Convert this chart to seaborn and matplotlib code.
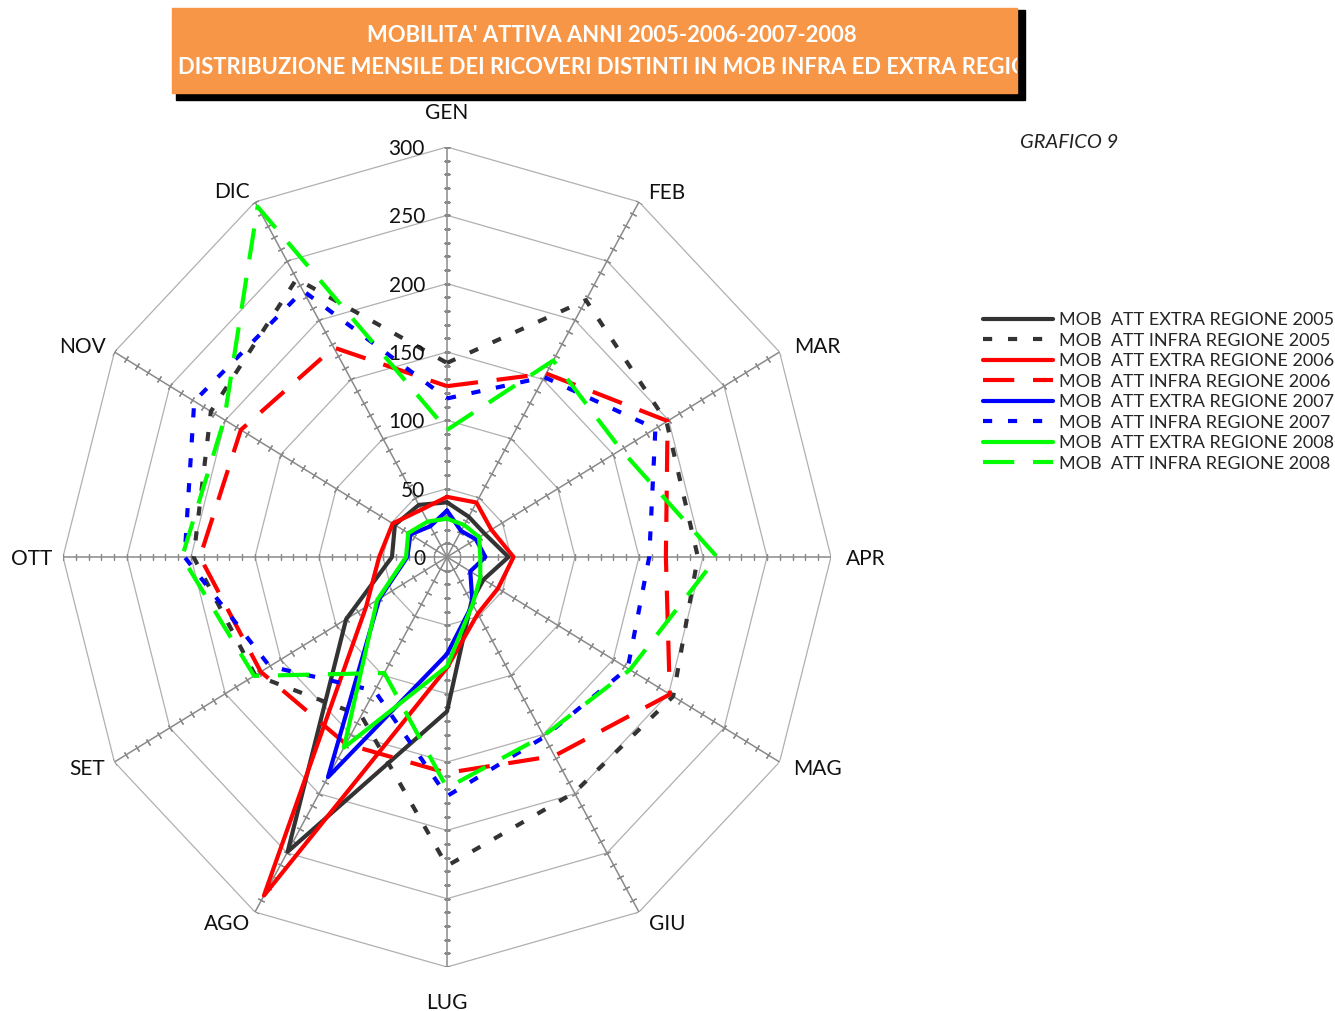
import numpy as np
import matplotlib
matplotlib.use("Agg")
import matplotlib.pyplot as plt
import seaborn as sns
from matplotlib.patches import Rectangle

# months (clockwise from top)
months = ["GEN", "FEB", "MAR", "APR", "MAG", "GIU", "LUG", "AGO", "SET", "OTT", "NOV", "DIC"]

# values
extra_2005 = [40, 34, 34, 48, 33, 38, 113, 249, 91, 43, 47, 44]
infra_2005 = [142, 217, 198, 196, 204, 199, 226, 134, 173, 198, 213, 235]
extra_2006 = [44, 46, 40, 52, 46, 48, 81, 286, 73, 53, 49, 40]
infra_2006 = [125, 155, 199, 171, 201, 168, 158, 158, 168, 193, 186, 177]
extra_2007 = [34, 22, 26, 30, 21, 40, 71, 186, 61, 31, 33, 26]
infra_2007 = [116, 152, 188, 158, 163, 152, 175, 113, 160, 205, 228, 225]
extra_2008 = [28, 27, 29, 26, 30, 40, 80, 161, 63, 32, 35, 30]
infra_2008 = [93, 166, 157, 211, 165, 151, 169, 98, 174, 207, 201, 296]

series_labels = ["MOB  ATT EXTRA REGIONE 2005", "MOB  ATT INFRA REGIONE 2005",
                 "MOB  ATT EXTRA REGIONE 2006", "MOB  ATT INFRA REGIONE 2006",
                 "MOB  ATT EXTRA REGIONE 2007", "MOB  ATT INFRA REGIONE 2007",
                 "MOB  ATT EXTRA REGIONE 2008", "MOB  ATT INFRA REGIONE 2008"]
series_values = [extra_2005, infra_2005, extra_2006, infra_2006,
                 extra_2007, infra_2007, extra_2008, infra_2008]
colors = ["#333333", "#333333", "#ff0000", "#ff0000",
          "#0000ff", "#0000ff", "#00ff00", "#00ff00"]
styles = ["-", (0, (2.2, 3.8)), "-", (0, (7.5, 4.5)),
          "-", (0, (2.2, 3.8)), "-", (0, (7.5, 4.5))]

sns.set_theme(style="white")
plt.rcParams["font.family"] = ["Lato", "DejaVu Sans"]

W, H = 1335, 1011
fig = plt.figure(figsize=(W / 100, H / 100), dpi=100)

# title box with shadow
fig.patches.append(Rectangle((176 / W, 1 - 100 / H), 849 / W, 90 / H,
                             transform=fig.transFigure, color="black", zorder=1))
box = Rectangle((172 / W, 1 - 93 / H), 845 / W, 85 / H,
                transform=fig.transFigure, color="#f79646", zorder=2)
fig.patches.append(box)
fig.text(612 / W, 1 - 35 / H, "MOBILITA' ATTIVA ANNI 2005-2006-2007-2008",
         ha="center", va="center", color="white", fontsize=15.8, fontweight="bold", zorder=3)
t2 = fig.text(178 / W, 1 - 68 / H,
              "DISTRIBUZIONE MENSILE DEI RICOVERI DISTINTI IN MOB INFRA ED EXTRA REGIONE",
              ha="left", va="center", color="white", fontsize=15.8, fontweight="bold", zorder=3)
t2.set_clip_path(box)

fig.text(1020 / W, 1 - 142 / H, "GRAFICO 9", ha="left", va="center",
         fontsize=14.5, style="italic", color="#222222")

# radar axes (stretched vertically like the original)
cx, cy, rx, ry = 447, 557, 384, 410
ax = fig.add_axes([(cx - rx) / W, (H - cy - ry) / H, 2 * rx / W, 2 * ry / H],
                  projection="polar")
ax.set_aspect("auto")
ax.set_theta_zero_location("N")
ax.set_theta_direction(-1)
ax.grid(False)
ax.set_xticks([])
ax.set_yticks([])
ax.spines["polar"].set_visible(False)

theta = np.deg2rad(np.arange(12) * 30)
closed = np.append(theta, 2 * np.pi)

for r in range(50, 301, 50):
    ax.plot(closed, [r] * 13, color="#b0b0b0", lw=0.9, zorder=1)
for t in theta:
    ax.plot([t, t], [0, 300], color="#8a8a8a", lw=1.1, zorder=1)
    phi = np.degrees(np.arctan2(ry * np.cos(t), rx * np.sin(t)))
    ax.plot([t] * 30, np.arange(10, 301, 10), ls="none", marker=(2, 2, phi),
            ms=5, mec="#8a8a8a", mew=0.9, zorder=1)

handles = []
for vals, c, ls in zip(series_values, colors, styles):
    sns.lineplot(x=closed, y=vals + [vals[0]], ax=ax, color=c, lw=3.0,
                 linestyle=ls, sort=False, estimator=None, legend=False, zorder=3)
    handles.append(ax.get_lines()[-1])
if ax.get_legend() is not None:
    ax.get_legend().remove()
ax.set_ylim(0, 300)
ax.set_xlabel("")
ax.set_ylabel("")

# radial value labels
for r in range(0, 301, 50):
    ax.annotate(str(r), xy=(0, r), xytext=(-22, -2), textcoords="offset pixels",
                ha="right", va="center", fontsize=15, color="#111111")

# month labels
offsets = [(0, 34), (28, 9), (38, 5), (35, -2), (38, -7), (28, -12),
           (0, -36), (-28, -12), (-27, -7), (-31, -2), (-32, 5), (-23, 10)]
for t, m, off in zip(theta, months, offsets):
    ax.annotate(m, xy=(t, 300), xytext=off, textcoords="offset pixels",
                ha="center", va="center", fontsize=15, color="#111111")

fig.legend(handles, series_labels, loc="upper left",
           bbox_to_anchor=(983 / W, 1 - 312 / H), frameon=False,
           fontsize=13, handlelength=3.9, handletextpad=0.3,
           labelspacing=0.25, borderpad=0, borderaxespad=0)

fig.savefig("out.png", dpi=100)
